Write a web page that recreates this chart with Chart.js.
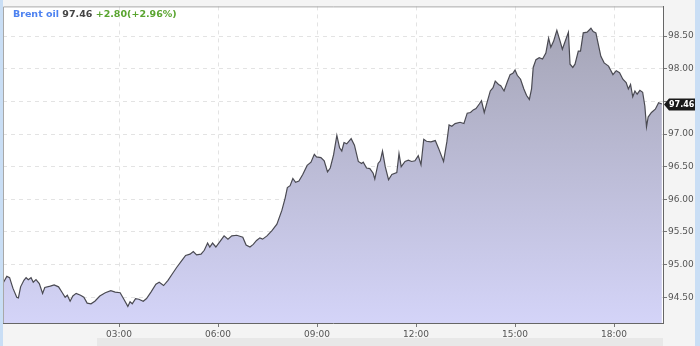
<!DOCTYPE html>
<html>
<head>
<meta charset="utf-8">
<title>Brent oil</title>
<script src="https://cdn.jsdelivr.net/npm/chart.js@4.4.1/dist/chart.umd.min.js"></script>
<style>
    html, body { margin: 0; padding: 0; background: #c9def5; }
    #wrap { width: 700px; height: 346px; }
</style>
</head>
<body>
<div id="wrap"><canvas id="brentChart" width="700" height="346"></canvas></div>
<script>
// Dados (minutos desde 00:00, preço)
const times = [
    -30, -24, -19, -13, -6, -3, 1, 7, 11, 15, 20, 24, 29, 35, 41, 45, 55, 62, 70, 76,
    82, 86, 91, 96, 102, 110, 116, 122, 129, 136, 145, 155, 165, 173, 182, 188, 196, 200, 204, 210,
    216, 224, 230, 238, 247, 253, 261, 269, 277, 285, 294, 301, 309, 315, 321, 329, 335, 341, 345, 350,
    356, 364, 371, 378, 385, 394, 405, 411, 418, 424, 430, 436, 441, 449, 458, 467, 476, 482, 486, 491,
    496, 501, 507, 514, 522, 529, 535, 539, 547, 553, 559, 564, 570, 576, 581, 585, 589, 594, 602, 608,
    615, 621, 624, 630, 636, 642, 645, 651, 655, 659, 664, 670, 676, 685, 689, 693, 700, 706, 712, 718,
    724, 729, 734, 739, 747, 755, 761, 770, 776, 780, 785, 791, 800, 807, 813, 819, 824, 829, 835, 839,
    844, 849, 855, 860, 864, 870, 874, 880, 886, 891, 896, 900, 904, 910, 916, 921, 926, 930, 933, 938,
    944, 950, 956, 961, 965, 970, 976, 982, 986, 997, 1000, 1005, 1009, 1015, 1019, 1024, 1031, 1038, 1042, 1047,
    1051, 1056, 1062, 1070, 1078, 1084, 1090, 1096, 1102, 1106, 1110, 1114, 1118, 1122, 1127, 1132, 1136, 1139, 1142, 1148,
    1155, 1161, 1167
];
const prices = [
    94.73, 94.82, 94.80, 94.64, 94.50, 94.49, 94.66, 94.76, 94.80, 94.77, 94.80, 94.73, 94.77, 94.71, 94.56, 94.65, 94.67, 94.69, 94.66, 94.58,
    94.50, 94.53, 94.44, 94.52, 94.56, 94.53, 94.50, 94.41, 94.40, 94.44, 94.52, 94.57, 94.60, 94.58, 94.57, 94.48, 94.36, 94.43, 94.40, 94.48,
    94.47, 94.44, 94.48, 94.58, 94.70, 94.73, 94.68, 94.76, 94.86, 94.96, 95.06, 95.14, 95.16, 95.20, 95.15, 95.16, 95.22, 95.33, 95.27, 95.33,
    95.27, 95.36, 95.44, 95.39, 95.44, 95.45, 95.42, 95.30, 95.27, 95.31, 95.37, 95.41, 95.39, 95.44, 95.52, 95.62, 95.83, 96.02, 96.18, 96.21,
    96.32, 96.26, 96.28, 96.38, 96.52, 96.57, 96.69, 96.65, 96.64, 96.59, 96.42, 96.48, 96.68, 96.98, 96.79, 96.74, 96.87, 96.85, 96.93, 96.83,
    96.58, 96.55, 96.57, 96.48, 96.47, 96.40, 96.31, 96.55, 96.59, 96.74, 96.50, 96.30, 96.38, 96.41, 96.70, 96.50, 96.58, 96.60, 96.58, 96.59,
    96.67, 96.53, 96.92, 96.89, 96.88, 96.90, 96.78, 96.58, 96.88, 97.14, 97.12, 97.16, 97.18, 97.16, 97.32, 97.33, 97.37, 97.39, 97.46, 97.51,
    97.33, 97.48, 97.66, 97.71, 97.81, 97.76, 97.74, 97.66, 97.80, 97.91, 97.93, 97.98, 97.90, 97.84, 97.69, 97.59, 97.53, 97.69, 98.02, 98.14,
    98.17, 98.15, 98.24, 98.47, 98.33, 98.42, 98.59, 98.42, 98.30, 98.56, 98.07, 98.02, 98.07, 98.27, 98.27, 98.55, 98.56, 98.62, 98.57, 98.55,
    98.39, 98.19, 98.09, 98.04, 97.91, 97.97, 97.94, 97.84, 97.79, 97.69, 97.76, 97.57, 97.66, 97.61, 97.67, 97.64, 97.43, 97.11, 97.26, 97.33,
    97.38, 97.48, 97.46
];
const yTicks = [94.5, 95.0, 95.5, 96.0, 96.5, 97.0, 97.5, 98.0, 98.5];
const xTicks = [180, 360, 540, 720, 900, 1080];

// Texto do cabeçalho
const nomeAtivo = 'Brent oil';
const ultimoPreco = '97.46';
const variacao = '+2.80(+2.96%)';

const fonteBase = '"DejaVu Sans", Verdana, sans-serif';

// Formatar minutos como HH:MM
function formatarHora(min) {
    const h = Math.floor(min / 60);
    const m = min % 60;
    return String(h).padStart(2, '0') + ':' + String(m).padStart(2, '0');
}

// Plugin para fundo, cabeçalho e etiqueta do último preço
const decoracao = {
    id: 'decoracao',
    beforeDraw(chart) {
        const { ctx, chartArea } = chart;
        ctx.save();
        // painel cinza
        ctx.fillStyle = '#f4f4f4';
        ctx.fillRect(3, 0, 692, 346);
        // faixa inferior
        ctx.fillStyle = '#e8e8e8';
        ctx.fillRect(97, 338, 566, 8);
        // área do gráfico
        ctx.fillStyle = '#ffffff';
        ctx.fillRect(chartArea.left, chartArea.top, chartArea.right - chartArea.left, chartArea.bottom - chartArea.top);
        ctx.restore();
    },
    afterDraw(chart) {
        const { ctx, chartArea } = chart;
        const yScale = chart.scales.y;
        ctx.save();

        // contorno
        ctx.strokeStyle = '#a8a8a8';
        ctx.lineWidth = 1;
        ctx.beginPath();
        ctx.moveTo(chartArea.left + 0.5, chartArea.bottom);
        ctx.lineTo(chartArea.left + 0.5, chartArea.top + 0.5);
        ctx.lineTo(chartArea.right, chartArea.top + 0.5);
        ctx.stroke();

        // cabeçalho
        ctx.font = 'bold 9.5px ' + fonteBase;
        ctx.textBaseline = 'alphabetic';
        let x = 13;
        const y = 17;
        const partes = [
            [nomeAtivo, '#4d82f0'],
            [' ' + ultimoPreco, '#444444'],
            [' ' + variacao, '#5aa530']
        ];
        partes.forEach(([txt, cor]) => {
            ctx.fillStyle = cor;
            ctx.fillText(txt, x, y);
            x += ctx.measureText(txt).width;
        });

        // etiqueta do último preço
        const ultimo = prices[prices.length - 1];
        const py = Math.round(yScale.getPixelForValue(ultimo)) + 0.5;
        const bx = chartArea.right + 1;
        ctx.fillStyle = '#1a1a1a';
        ctx.beginPath();
        ctx.moveTo(bx, py);
        ctx.lineTo(bx + 5, py - 6);
        ctx.lineTo(bx + 31, py - 6);
        ctx.lineTo(bx + 31, py + 6);
        ctx.lineTo(bx + 5, py + 6);
        ctx.closePath();
        ctx.fill();
        ctx.fillStyle = '#ffffff';
        ctx.font = 'bold 8px ' + fonteBase;
        ctx.textBaseline = 'middle';
        ctx.fillText(ultimo.toFixed(2), bx + 5, py + 0.5);
        ctx.restore();
    }
};

// Gradiente do preenchimento
function gradiente(context) {
    const { ctx, chartArea } = context.chart;
    if (!chartArea) return '#c8c8ec';
    const g = ctx.createLinearGradient(0, chartArea.top, 0, chartArea.bottom);
    g.addColorStop(0, '#a2a2b2');
    g.addColorStop(1, '#d4d4f8');
    return g;
}

const ctx = document.getElementById('brentChart').getContext('2d');
const brentChart = new Chart(ctx, {
    type: 'line',
    data: {
        datasets: [{
            label: nomeAtivo,
            data: times.map((t, i) => ({ x: t, y: prices[i] })),
            borderColor: '#4a4a52',
            borderWidth: 1.2,
            backgroundColor: gradiente,
            fill: 'start',
            pointRadius: 0,
            tension: 0
        }]
    },
    options: {
        responsive: false,
        animation: false,
        layout: { padding: { left: 3, top: 3, right: 5, bottom: 0 } },
        plugins: {
            legend: { display: false },
            tooltip: { enabled: false }
        },
        scales: {
            x: {
                type: 'linear',
                min: -31,
                max: 1169,
                z: 1,
                afterBuildTicks: (scale) => { scale.ticks = xTicks.map(v => ({ value: v })); },
                afterFit: (scale) => { scale.height = 23; },
                grid: { color: 'rgba(0,0,0,0.11)', tickColor: '#777', tickLength: 4 },
                border: { display: true, color: '#666', width: 1, dash: [4, 4] },
                ticks: {
                    color: '#555',
                    font: { family: fonteBase, size: 9 },
                    padding: 2,
                    maxRotation: 0,
                    callback: (v) => formatarHora(v)
                }
            },
            y: {
                position: 'right',
                min: 94.106,
                max: 98.955,
                z: 1,
                afterBuildTicks: (scale) => { scale.ticks = yTicks.map(v => ({ value: v })); },
                afterFit: (scale) => { scale.width = 32; },
                grid: { color: 'rgba(0,0,0,0.11)', tickColor: '#777', tickLength: 4 },
                border: { display: true, color: '#666', width: 1, dash: [4, 4] },
                ticks: {
                    color: '#555',
                    font: { family: fonteBase, size: 9 },
                    padding: 1,
                    // rótulo escondido onde fica a etiqueta do último preço
                    callback: (v) => Math.abs(v - prices[prices.length - 1]) < 0.15 ? '' : Number(v).toFixed(2)
                }
            }
        }
    },
    plugins: [decoracao]
});
</script>
</body>
</html>
